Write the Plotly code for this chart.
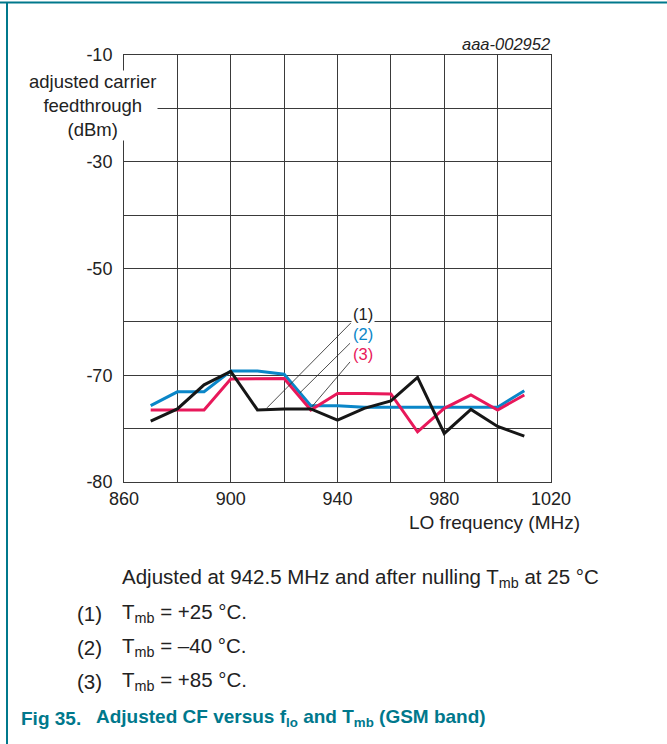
import plotly.graph_objects as go

# LO frequency (MHz)
freq = [870, 880, 890, 900, 910, 920, 930, 940, 950, 960, 970, 980, 990, 1000, 1010]

# adjusted carrier feedthrough, in plot-axis units (gridline every 10)
cf_25 = [-78.6, -76.3, -71.8, -69.3, -76.5, -76.3, -76.3, -78.4, -76.2, -74.8,
         -70.4, -80.9, -76.4, -79.6, -81.4]
cf_m40 = [-75.7, -73.1, -73.1, -69.2, -69.2, -69.8, -75.7, -75.7, -76.0, -76.0,
          -76.0, -76.0, -76.0, -76.0, -72.9]
cf_85 = [-76.5, -76.5, -76.5, -70.7, -70.7, -70.6, -76.5, -73.4, -73.4, -73.5,
         -80.6, -76.2, -73.7, -76.5, -73.7]

x_ticks = [860, 880, 900, 920, 940, 960, 980, 1000, 1020]
x_labels = ["860", "", "900", "", "940", "", "980", "", "1020"]
y_ticks = [-90, -80, -70, -60, -50, -40, -30, -20, -10]
y_labels = ["-80", "", "-70", "", "-50", "", "-30", "", "-10"]

curve_labels = ["(1)", "(2)", "(3)"]
# leader lines: (label end, curve end) in data coordinates
leaders = [((945.0, -60.2), (913.6, -76.1)),
           ((944.7, -64.0), (925.9, -73.3)),
           ((944.7, -67.5), (930.4, -75.9))]
label_pos = [(949.5, -58.5), (949.5, -62.3), (949.5, -66.0)]

BLACK = "#161616"
BLUE = "#0a86c8"
PINK = "#e8185a"
TEAL = "#00788c"
TXT = "#222222"
GRID = "#3a3a3a"
FONT = "Liberation Sans, Arial, Helvetica, sans-serif"

# page geometry (pixels) -> paper coordinates
W, H = 667, 744
L, R, T, B = 124, 551, 55, 482


def px(x):
    return (x - L) / (R - L)


def py(y):
    return (B - y) / (B - T)


def page_text(x, y, text, size, color=TXT, xanchor="left"):
    fig.add_annotation(x=px(x), y=py(y), xref="paper", yref="paper",
                       xanchor=xanchor, yanchor="middle", showarrow=False, text=text,
                       font=dict(size=size, color=color, family=FONT))


fig = go.Figure()
for ys, color, name in [(cf_m40, BLUE, "(2)"), (cf_85, PINK, "(3)"), (cf_25, BLACK, "(1)")]:
    fig.add_trace(go.Scatter(x=freq, y=ys, mode="lines", name=name,
                             line=dict(color=color, width=3)))

for (p0, p1) in leaders:
    fig.add_shape(type="line", xref="x", yref="y", x0=p0[0], y0=p0[1], x1=p1[0], y1=p1[1],
                  line=dict(color=TXT, width=0.8))

for txt, (lx, ly), color in zip(curve_labels, label_pos, [TXT, BLUE, PINK]):
    fig.add_annotation(x=lx, y=ly, xref="x", yref="y", text=txt, showarrow=False,
                       xanchor="center", yanchor="middle",
                       font=dict(size=16.5, color=color, family=FONT),
                       bgcolor="white", borderpad=1)

# y axis title sits over the axis line, on a white box
fig.add_annotation(x=px(93), y=py(105.5), xref="paper", yref="paper",
                   xanchor="center", yanchor="middle",
                   text="adjusted carrier<br>feedthrough<br>(dBm)", showarrow=False,
                   align="center", font=dict(size=18.5, color=TXT, family=FONT),
                   bgcolor="white", borderpad=0)
page_text(582, 522, "LO frequency (MHz)", 19, xanchor="right")
page_text(552, 44, "<i>aaa-002952</i>", 16.5, xanchor="right")

# notes under the chart
page_text(120, 578, "Adjusted at 942.5 MHz and after nulling T<sub>mb</sub> at 25 °C", 20.5)
notes = ["T<sub>mb</sub> = +25 °C.", "T<sub>mb</sub> = \u201340 °C.", "T<sub>mb</sub> = +85 °C."]
for i, (lab, note) in enumerate(zip(curve_labels, notes)):
    yy = 613 + i * 34
    page_text(75, yy, lab, 20.5)
    page_text(120, yy, note, 20.5)

page_text(19, 718, "<b>Fig 35.</b>", 19, color=TEAL)
page_text(94, 718, "<b>Adjusted CF versus f<sub>lo</sub> and T<sub>mb</sub> (GSM band)</b>",
          19, color=TEAL)

# page frame (teal rule at top and left)
fig.add_shape(type="line", xref="paper", yref="paper", x0=px(0), x1=px(W), y0=py(2.5), y1=py(2.5),
              line=dict(color=TEAL, width=2))
fig.add_shape(type="line", xref="paper", yref="paper", x0=px(7), x1=px(7), y0=py(2.5), y1=py(H),
              line=dict(color=TEAL, width=2))

fig.update_xaxes(range=[860, 1020], tickvals=x_ticks, ticktext=x_labels,
                 showgrid=True, gridcolor=GRID, gridwidth=1, zeroline=False,
                 showline=True, mirror=True, linecolor=GRID, linewidth=1, ticks="",
                 tickfont=dict(size=18, color=TXT, family=FONT))
fig.update_yaxes(range=[-90, -10], tickvals=y_ticks, ticktext=y_labels,
                 showgrid=True, gridcolor=GRID, gridwidth=1, zeroline=False,
                 showline=True, mirror=True, linecolor=GRID, linewidth=1, ticks="",
                 ticklabelstandoff=7, tickfont=dict(size=18, color=TXT, family=FONT))

fig.update_layout(width=W, height=H, autosize=False,
                  margin=dict(l=L, r=W - R, t=T, b=H - B, pad=0),
                  paper_bgcolor="white", plot_bgcolor="white",
                  showlegend=False, font=dict(family=FONT, color=TXT))

# drop the browser's default 8px body margin so the page lines up with the figure
fig.write_html("out.html", config={"displayModeBar": False},
               post_script="document.body.style.margin = '0';")
